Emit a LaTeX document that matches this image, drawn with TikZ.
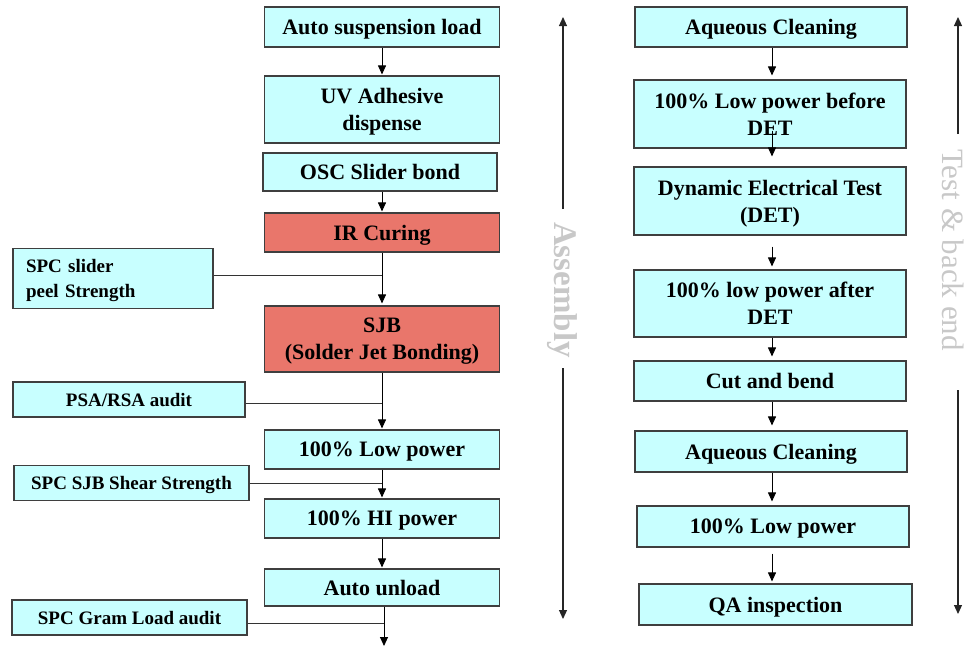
\documentclass[tikz,border=0pt]{standalone}
\usepackage{fontspec}
\setmainfont{Liberation Serif}
\usetikzlibrary{arrows.meta}
\definecolor{boxcyan}{HTML}{C8FFFF}
\definecolor{boxred}{HTML}{E9766B}
\definecolor{edge}{HTML}{3F3F3F}
\definecolor{labelgray}{HTML}{C8C8C8}

\begin{document}
\begin{tikzpicture}[x=1pt,y=-1pt,
  stepbox/.style={draw=edge, line width=1.1pt, fill=boxcyan, inner sep=0pt,
    text depth=0pt, align=center, font=\fontsize{22}{27}\selectfont\bfseries},
  hotbox/.style={stepbox, fill=boxred},
  sidebox/.style={draw=edge, line width=1.1pt, fill=boxcyan, inner sep=0pt,
    text depth=0pt, font=\fontsize{19}{25}\selectfont\bfseries},
  flow/.style={line width=0.9pt, draw=black, -{Triangle[width=8pt,length=9pt]}},
  feed/.style={line width=0.9pt, draw=black!80},
  rail/.style={line width=1.1pt, draw=black!85},
  phase/.style={inner sep=0pt, text=labelgray, rotate=-90},
]
\useasboundingbox (0,0) rectangle (974,648);

% rails for the two process columns
\coordinate (lrail) at (382,0);
\coordinate (rrail) at (772,0);

% ---------- assembly column ----------
\node[stepbox, minimum width=235pt, minimum height=40pt] (a1) at (382,27) {Auto suspension load};
\node[stepbox, minimum width=235pt, minimum height=67pt] (a2) at (382,109.5) {UV Adhesive\\dispense};
\node[stepbox, minimum width=234pt, minimum height=38pt] (a3) at (380,172) {OSC Slider bond};
\node[hotbox, minimum width=235pt, minimum height=39pt] (a4) at (382,232.5) {IR Curing};
\node[hotbox, minimum width=235pt, minimum height=66pt] (a5) at (382,339) {SJB\\(Solder Jet Bonding)};
\node[stepbox, minimum width=235pt, minimum height=39pt] (a6) at (382,449.5) {100\% Low power};
\node[stepbox, minimum width=235pt, minimum height=39pt] (a7) at (382,518.5) {100\% HI power};
\node[stepbox, minimum width=235pt, minimum height=37pt] (a8) at (382,587.5) {Auto unload};
\coordinate (aout) at (384,646);

% audit boxes feeding the assembly line
\node[sidebox, minimum width=200pt, minimum height=60pt, text width=174pt, align=left, text depth=26pt] (s1) at (113,278.5) {SPC slider\\peel Strength};
\node[sidebox, minimum width=232pt, minimum height=35pt] (s2) at (129,399.5) {PSA/RSA audit};
\node[sidebox, minimum width=235pt, minimum height=35pt] (s3) at (131.5,483) {SPC SJB Shear Strength};
\node[sidebox, minimum width=235pt, minimum height=35pt] (s4) at (129.5,617.5) {SPC Gram Load audit};

\draw[flow, shorten >=1pt] (a1.south -| lrail) -- (a2.north -| lrail);
\draw[flow, shorten >=1pt] (a3.south -| lrail) -- (a4.north -| lrail);
\draw[flow, shorten >=2pt] (a4.south -| lrail) -- (a5.north -| lrail);
\draw[flow, shorten >=1pt] (a5.south -| lrail) -- (a6.north -| lrail);
\draw[flow, shorten >=1pt] (a6.south -| lrail) -- (a7.north -| lrail);
\draw[flow, shorten >=1pt] (a7.south -| lrail) -- (a8.north -| lrail);
\draw[flow] (a8.south -| aout) -- (aout);

\draw[feed] ([yshift=3.5pt]s1.east) -- ([yshift=3.5pt]s1.east -| lrail);
\draw[feed] ([yshift=-3.5pt]s2.east) -- ([yshift=-3.5pt]s2.east -| lrail);
\draw[feed] (s3.east) -- (s3.east -| lrail);
\draw[feed] ([yshift=-5.5pt]s4.east) -- ([yshift=-5.5pt]s4.east -| aout);

% ---------- test and back-end column ----------
\node[stepbox, minimum width=272pt, minimum height=40pt] (r1) at (771,27) {Aqueous Cleaning};
\node[stepbox, minimum width=272pt, minimum height=68pt] (r2) at (770,114) {100\% Low power before\\DET};
\node[stepbox, minimum width=272pt, minimum height=68pt] (r3) at (770,201) {Dynamic Electrical Test\\(DET)};
\node[stepbox, minimum width=272pt, minimum height=67pt] (r4) at (770,303.5) {100\% low power after\\DET};
\node[stepbox, minimum width=272pt, minimum height=40pt] (r5) at (770,381) {Cut and bend};
\node[stepbox, minimum width=272pt, minimum height=41pt] (r6) at (771,451.5) {Aqueous Cleaning};
\node[stepbox, minimum width=272pt, minimum height=41pt] (r7) at (773,526.5) {100\% Low power};
\node[stepbox, minimum width=273pt, minimum height=41pt] (r8) at (775.5,604.5) {QA inspection};

\draw[flow, shorten >=4pt] (r1.south -| rrail) -- (r2.north -| rrail);
\draw[flow, shorten >=10pt] ([yshift=18pt]r2.south -| rrail) -- (r3.north -| rrail);
\draw[flow, shorten <=11pt, shorten >=3pt] (r3.south -| rrail) -- (r4.north -| rrail);
\draw[flow, shorten >=4pt] (r4.south -| rrail) -- (r5.north -| rrail);
\draw[flow, shorten >=5pt] (r5.south -| rrail) -- (r6.north -| rrail);
\draw[flow, shorten >=4pt] (r6.south -| rrail) -- (r7.north -| rrail);
\draw[flow, shorten <=6pt, shorten >=2pt] (r7.south -| rrail) -- (r8.north -| rrail);

% ---------- phase markers ----------
\node[phase, font=\fontsize{33}{33}\selectfont\bfseries] (asm) at (562,290) {Assembly};
\coordinate (asmTop) at (563,17);
\coordinate (asmUp) at (563,209);
\coordinate (asmDown) at (563,368);
\coordinate (asmBot) at (563,619);
\draw[rail, -{Triangle[width=8pt,length=9pt]}] (asmUp) -- (asmTop);
\draw[rail, -{Triangle[width=8pt,length=9pt]}] (asmDown) -- (asmBot);

\node[phase, font=\fontsize{31}{31}\selectfont] (tbe) at (953,250) {Test \& back end};
\coordinate (tbeTop) at (958,17);
\coordinate (tbeUp) at (958,134);
\coordinate (tbeDown) at (958,390);
\coordinate (tbeBot) at (958,614);
\draw[rail, -{Triangle[width=8pt,length=9pt]}] (tbeUp) -- (tbeTop);
\draw[rail, -{Triangle[width=8pt,length=9pt]}] (tbeDown) -- (tbeBot);
\end{tikzpicture}
\end{document}
